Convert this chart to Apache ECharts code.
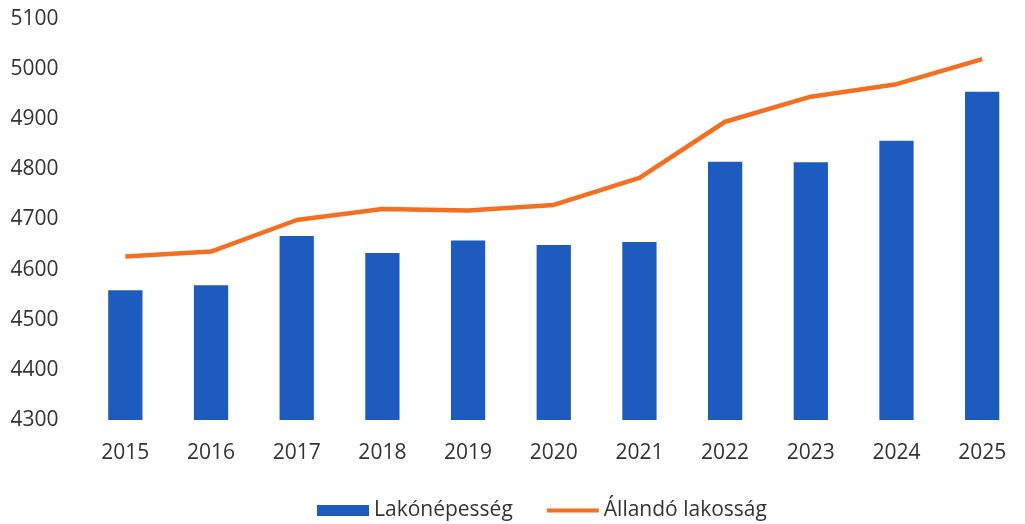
<!DOCTYPE html>
<html>
<head>
<meta charset="utf-8">
<script src="https://cdn.jsdelivr.net/npm/echarts@6/dist/echarts.min.js"></script>
<style>
html,body{margin:0;padding:0;background:#fff;}
#c{width:1025px;height:524px;}
</style>
</head>
<body>
<div id="c"></div>
<script>
const categories = ['2015','2016','2017','2018','2019','2020','2021','2022','2023','2024','2025'];
const lakonepesseg = [4559, 4569, 4667, 4633, 4658, 4649, 4655, 4815, 4814, 4857, 4955];
const allandoLakossag = [4626, 4636, 4699, 4721, 4718, 4729, 4783, 4895, 4945, 4970, 5020];
const yMin = 4300, yMax = 5100, yStep = 100;

const chart = echarts.init(document.getElementById('c'), null, {renderer: 'canvas'});
const font = '"Open Sans", "Liberation Sans", sans-serif';
chart.setOption({
  animation: false,
  backgroundColor: '#ffffff',
  textStyle: {fontFamily: font},
  grid: {left: 82.5, right: -17, top: 19, bottom: 104, containLabel: false},
  legend: {
    top: 495, left: 312,
    itemWidth: 52, itemHeight: 11, itemGap: 34,
    textStyle: {fontFamily: font, fontSize: 21, color: '#333'},
    data: [
      {name: 'Lakónépesség', icon: 'rect'},
      {name: 'Állandó lakosság', icon: 'path://M0,0 L0.01,0 L0.01,0.01 Z M0,11 L0.01,11 L0.01,10.99 Z M0,3.5 L52,3.5 L52,7.5 L0,7.5 Z'}
    ]
  },
  xAxis: {
    type: 'category', data: categories,
    axisLine: {show: false}, axisTick: {show: false},
    axisLabel: {fontFamily: font, fontSize: 21, color: '#333', margin: 23}
  },
  yAxis: {
    type: 'value', min: yMin, max: yMax, interval: yStep,
    axisLine: {show: false}, axisTick: {show: false}, splitLine: {show: false},
    axisLabel: {fontFamily: font, fontSize: 21, color: '#333', margin: 24,
      formatter: function (v) { return String(v); }}
  },
  series: [
    {name: 'Lakónépesség', type: 'bar', data: lakonepesseg, barWidth: '40%',
     itemStyle: {color: '#1d5cbe'}},
    {name: 'Állandó lakosság', type: 'line', data: allandoLakossag, symbol: 'none',
     lineStyle: {color: '#f36f21', width: 4.5}, itemStyle: {color: '#f36f21'}}
  ]
});
</script>
</body>
</html>
